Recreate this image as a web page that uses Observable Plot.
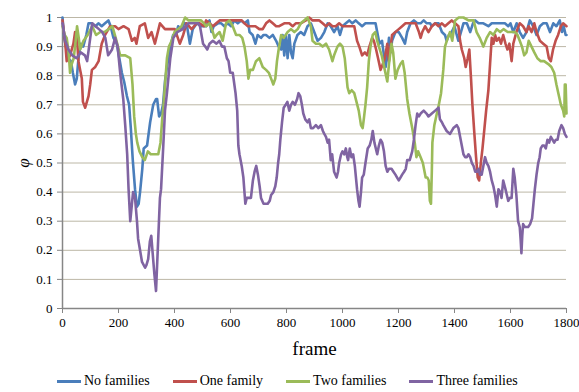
<!DOCTYPE html>
<html>
<head>
<meta charset="utf-8">
<script src="https://cdn.jsdelivr.net/npm/d3@7"></script>
<script src="https://cdn.jsdelivr.net/npm/@observablehq/plot@0.6"></script>
<style>
  html, body { margin: 0; padding: 0; background: #fff; }
  #chart { width: 579px; }
  #chart svg { display: block; }
  .legend { display: flex; align-items: center; gap: 23px; padding-left: 57px; margin-top: 6px;
    font-family: "Liberation Serif", "DejaVu Serif", serif; font-size: 14px; color: #000; height: 20px; }
  .legend .item { display: flex; align-items: center; gap: 3px; }
  .legend .sw { width: 24px; height: 3px; display: inline-block; }
</style>
</head>
<body>
<div id="chart"></div>
<script>
const seriesNames = ["No families", "One family", "Two families", "Three families"];
const seriesColors = ["#4a7ebb", "#c0504d", "#9bbb59", "#8064a2"];
const xTicks = [0, 200, 400, 600, 800, 1000, 1200, 1400, 1600, 1800];
const yTicks = [0, 0.1, 0.2, 0.3, 0.4, 0.5, 0.6, 0.7, 0.8, 0.9, 1];

const noFamilies = [[0,1.0],[6,0.93],[14,0.89],[21,0.86],[30,0.85],[37,0.81],[45,0.77],[51,0.79],[57,0.86],[65,0.91],[74,0.90],[85,0.94],[93,0.98],[105,0.98],[117,0.97],[129,0.98],[140,0.97],[152,0.98],[164,0.99],[172,0.97],[182,0.93],[194,0.91],[203,0.86],[212,0.81],[220,0.78],[230,0.73],[238,0.70],[244,0.62],[251,0.51],[259,0.41],[266,0.35],[272,0.36],[277,0.40],[285,0.48],[290,0.55],[302,0.56],[313,0.64],[324,0.70],[334,0.72],[338,0.72],[345,0.66],[352,0.67],[359,0.70],[366,0.78],[373,0.83],[385,0.90],[395,0.94],[405,0.94],[413,0.97],[425,0.96],[435,0.98],[443,0.98],[455,0.91],[465,0.96],[480,0.98],[495,0.97],[505,0.97],[513,0.97],[525,0.99],[532,0.95],[540,0.97],[555,0.98],[567,0.98],[578,0.97],[590,0.98],[602,0.97],[614,0.99],[626,0.98],[638,0.99],[650,0.98],[662,0.99],[668,0.95],[679,0.94],[689,0.91],[697,0.94],[709,0.93],[718,0.94],[727,0.94],[739,0.93],[751,0.94],[763,0.92],[772,0.90],[781,0.89],[786,0.94],[792,0.87],[798,0.94],[804,0.86],[810,0.94],[816,0.88],[822,0.86],[828,0.91],[839,0.94],[851,0.95],[863,0.94],[875,0.97],[887,0.98],[899,0.95],[911,0.92],[923,0.93],[935,0.95],[947,0.98],[958,0.97],[970,0.95],[982,0.97],[991,0.94],[1000,0.97],[1012,0.98],[1024,0.99],[1035,0.98],[1047,0.99],[1058,0.98],[1070,0.97],[1082,0.98],[1094,0.98],[1106,0.98],[1118,0.98],[1124,0.95],[1132,0.91],[1141,0.92],[1148,0.87],[1154,0.83],[1160,0.87],[1166,0.93],[1172,0.88],[1177,0.92],[1189,0.95],[1201,0.95],[1213,0.93],[1223,0.91],[1231,0.95],[1243,0.98],[1255,0.99],[1267,0.98],[1279,0.98],[1290,0.99],[1301,0.98],[1313,0.98],[1319,0.97],[1331,0.98],[1343,0.98],[1355,0.95],[1366,0.94],[1372,0.92],[1380,0.94],[1390,0.95],[1400,0.97],[1408,0.94],[1414,0.92],[1423,0.95],[1432,0.98],[1444,0.98],[1456,0.95],[1466,0.98],[1474,0.99],[1486,0.98],[1503,0.98],[1521,0.97],[1533,0.98],[1551,0.98],[1563,0.98],[1580,0.98],[1592,0.97],[1600,0.98],[1610,0.95],[1622,0.98],[1633,0.95],[1645,0.93],[1657,0.95],[1669,0.99],[1681,0.97],[1693,0.94],[1705,0.97],[1717,0.98],[1729,0.98],[1741,0.95],[1753,0.98],[1764,0.97],[1776,0.99],[1784,0.95],[1790,0.97],[1797,0.94],[1800,0.94]];

const oneFamily = [[0,0.99],[10,0.91],[15,0.85],[27,0.87],[39,0.91],[45,0.95],[51,0.94],[57,0.85],[63,0.82],[69,0.79],[73,0.71],[81,0.69],[93,0.73],[99,0.77],[105,0.82],[117,0.83],[129,0.85],[140,0.91],[152,0.94],[170,0.97],[188,0.97],[200,0.96],[218,0.97],[236,0.96],[248,0.92],[258,0.93],[264,0.91],[276,0.97],[294,0.98],[306,0.93],[318,0.95],[330,0.91],[348,0.98],[366,0.96],[383,0.96],[401,0.96],[419,0.91],[431,0.94],[443,0.98],[461,0.96],[479,0.98],[490,0.98],[505,0.97],[513,0.99],[525,0.98],[537,0.97],[549,0.98],[561,0.99],[578,0.99],[600,0.99],[620,0.99],[640,0.99],[650,0.98],[662,0.97],[674,0.97],[689,0.97],[703,0.96],[715,0.96],[727,0.98],[739,0.99],[751,0.98],[763,0.97],[774,0.97],[792,0.98],[810,0.98],[822,0.97],[833,0.98],[851,0.98],[869,0.99],[881,1.0],[893,0.99],[905,0.99],[917,0.99],[929,0.98],[941,0.97],[952,0.98],[964,0.97],[976,0.97],[988,0.98],[1000,0.97],[1012,0.97],[1030,0.97],[1042,0.97],[1052,0.92],[1060,0.90],[1070,0.87],[1080,0.88],[1088,0.87],[1096,0.90],[1106,0.93],[1112,0.92],[1120,0.89],[1127,0.86],[1136,0.82],[1144,0.84],[1151,0.86],[1160,0.91],[1166,0.85],[1172,0.90],[1177,0.94],[1189,0.95],[1201,0.96],[1213,0.97],[1225,0.98],[1237,0.98],[1249,0.98],[1261,0.98],[1273,0.95],[1279,0.93],[1285,0.95],[1295,0.97],[1307,0.95],[1319,0.97],[1331,0.98],[1343,0.97],[1355,0.98],[1366,0.97],[1378,0.98],[1390,0.99],[1402,0.98],[1414,0.97],[1420,0.92],[1426,0.89],[1435,0.86],[1440,0.83],[1447,0.86],[1453,0.89],[1459,0.79],[1464,0.70],[1471,0.60],[1477,0.52],[1483,0.45],[1488,0.44],[1494,0.50],[1500,0.55],[1507,0.62],[1513,0.68],[1521,0.75],[1527,0.84],[1533,0.93],[1539,0.91],[1545,0.94],[1551,0.92],[1559,0.93],[1566,0.91],[1574,0.94],[1582,0.91],[1589,0.89],[1596,0.91],[1604,0.85],[1610,0.91],[1621,0.95],[1633,0.98],[1645,0.97],[1657,0.95],[1665,0.97],[1675,0.95],[1685,0.98],[1693,0.95],[1705,0.92],[1717,0.91],[1729,0.90],[1737,0.86],[1744,0.85],[1752,0.89],[1761,0.92],[1770,0.94],[1780,0.97],[1788,0.98],[1800,0.97]];

const twoFamilies = [[0,0.97],[8,0.94],[15,0.93],[22,0.88],[27,0.81],[33,0.84],[40,0.86],[46,0.91],[52,0.97],[58,0.93],[63,0.89],[75,0.92],[90,0.94],[106,0.97],[120,0.94],[135,0.95],[150,0.95],[165,0.96],[178,0.97],[190,0.93],[206,0.87],[224,0.87],[242,0.86],[250,0.77],[256,0.66],[262,0.60],[267,0.57],[275,0.54],[285,0.52],[294,0.51],[305,0.54],[315,0.53],[330,0.53],[342,0.53],[350,0.57],[356,0.65],[361,0.70],[367,0.78],[373,0.86],[380,0.90],[390,0.92],[400,0.95],[413,0.96],[425,0.97],[438,1.0],[450,0.99],[465,0.99],[480,0.99],[495,0.99],[505,0.98],[513,0.97],[525,0.98],[537,0.95],[543,0.93],[550,0.94],[561,0.95],[572,0.92],[584,0.98],[596,0.99],[608,0.97],[620,0.94],[632,0.94],[642,0.93],[650,0.90],[658,0.85],[664,0.79],[670,0.82],[680,0.82],[691,0.85],[703,0.86],[715,0.83],[727,0.82],[737,0.81],[745,0.79],[753,0.77],[760,0.79],[766,0.85],[772,0.89],[781,0.94],[790,0.93],[804,0.95],[816,0.96],[828,0.95],[840,0.96],[851,0.98],[863,0.99],[875,1.0],[887,0.97],[893,0.92],[905,0.91],[917,0.91],[929,0.90],[941,0.91],[952,0.89],[964,0.85],[970,0.87],[982,0.90],[991,0.91],[1000,0.90],[1008,0.86],[1018,0.76],[1024,0.74],[1033,0.75],[1042,0.74],[1050,0.71],[1058,0.68],[1066,0.63],[1072,0.62],[1076,0.65],[1082,0.70],[1088,0.76],[1094,0.85],[1100,0.90],[1108,0.94],[1117,0.95],[1124,0.92],[1130,0.90],[1140,0.87],[1151,0.82],[1160,0.78],[1166,0.84],[1175,0.91],[1181,0.88],[1189,0.79],[1197,0.82],[1207,0.84],[1215,0.85],[1222,0.81],[1231,0.72],[1239,0.67],[1249,0.62],[1258,0.57],[1264,0.52],[1270,0.54],[1279,0.52],[1287,0.50],[1297,0.45],[1303,0.45],[1308,0.44],[1312,0.37],[1316,0.36],[1319,0.47],[1321,0.57],[1328,0.63],[1337,0.67],[1344,0.70],[1352,0.74],[1360,0.82],[1366,0.90],[1376,0.93],[1384,0.95],[1392,0.92],[1402,0.99],[1415,1.0],[1432,1.0],[1450,0.99],[1468,0.99],[1479,0.95],[1490,0.93],[1503,0.90],[1515,0.93],[1527,0.95],[1539,0.94],[1551,0.96],[1563,0.95],[1575,0.96],[1590,0.95],[1604,0.95],[1616,0.95],[1625,0.94],[1633,0.92],[1641,0.90],[1649,0.87],[1657,0.88],[1665,0.92],[1675,0.90],[1685,0.88],[1696,0.86],[1708,0.85],[1720,0.85],[1735,0.84],[1746,0.83],[1756,0.81],[1764,0.77],[1773,0.73],[1780,0.70],[1788,0.68],[1792,0.66],[1794,0.77],[1797,0.77],[1800,0.67]];

const threeFamilies = [[0,0.98],[10,0.92],[21,0.89],[35,0.87],[50,0.86],[65,0.88],[80,0.87],[88,0.85],[95,0.90],[106,0.98],[118,0.97],[130,0.96],[142,0.95],[153,0.93],[163,0.87],[170,0.88],[177,0.89],[188,0.93],[197,0.90],[206,0.81],[212,0.76],[217,0.72],[224,0.63],[231,0.53],[236,0.41],[242,0.30],[247,0.35],[252,0.40],[259,0.38],[266,0.30],[270,0.24],[277,0.20],[284,0.16],[295,0.14],[300,0.15],[306,0.17],[312,0.23],[317,0.25],[322,0.19],[328,0.12],[334,0.06],[341,0.22],[348,0.38],[352,0.41],[360,0.56],[366,0.68],[373,0.74],[379,0.80],[385,0.86],[396,0.93],[410,0.95],[430,0.96],[450,0.98],[470,0.98],[485,0.98],[491,0.97],[502,0.91],[510,0.90],[517,0.89],[525,0.91],[537,0.92],[550,0.91],[560,0.92],[570,0.90],[578,0.90],[587,0.86],[593,0.85],[599,0.81],[608,0.81],[618,0.74],[624,0.68],[628,0.56],[632,0.53],[640,0.49],[646,0.45],[653,0.36],[658,0.38],[665,0.38],[673,0.38],[680,0.44],[686,0.47],[692,0.49],[698,0.46],[704,0.42],[709,0.38],[718,0.36],[726,0.36],[733,0.36],[740,0.37],[745,0.39],[753,0.40],[760,0.42],[765,0.45],[770,0.50],[774,0.53],[778,0.58],[784,0.64],[790,0.69],[797,0.70],[803,0.71],[810,0.68],[816,0.70],[822,0.71],[830,0.70],[838,0.72],[843,0.74],[849,0.73],[855,0.70],[860,0.67],[867,0.65],[875,0.64],[881,0.65],[887,0.62],[895,0.62],[905,0.63],[914,0.62],[923,0.63],[930,0.61],[935,0.60],[941,0.59],[947,0.57],[952,0.58],[958,0.51],[963,0.53],[970,0.47],[979,0.45],[984,0.47],[988,0.50],[995,0.53],[1000,0.54],[1006,0.53],[1012,0.55],[1017,0.52],[1020,0.51],[1026,0.55],[1032,0.52],[1038,0.53],[1044,0.49],[1052,0.41],[1057,0.37],[1061,0.35],[1066,0.40],[1070,0.45],[1076,0.46],[1082,0.50],[1090,0.55],[1097,0.56],[1103,0.58],[1108,0.61],[1114,0.57],[1119,0.55],[1124,0.53],[1130,0.56],[1136,0.58],[1142,0.57],[1148,0.54],[1154,0.49],[1160,0.47],[1166,0.48],[1175,0.48],[1182,0.47],[1189,0.46],[1195,0.45],[1201,0.44],[1207,0.45],[1213,0.46],[1220,0.47],[1226,0.48],[1231,0.51],[1240,0.51],[1249,0.54],[1255,0.58],[1261,0.63],[1267,0.67],[1273,0.66],[1279,0.67],[1290,0.68],[1300,0.67],[1307,0.66],[1319,0.67],[1331,0.68],[1343,0.69],[1348,0.65],[1355,0.64],[1360,0.63],[1372,0.61],[1384,0.60],[1396,0.62],[1408,0.63],[1414,0.62],[1420,0.59],[1426,0.56],[1432,0.53],[1438,0.52],[1444,0.52],[1450,0.53],[1456,0.52],[1462,0.50],[1468,0.49],[1474,0.47],[1480,0.47],[1486,0.48],[1491,0.46],[1497,0.46],[1503,0.49],[1509,0.52],[1515,0.50],[1521,0.49],[1527,0.47],[1533,0.44],[1539,0.42],[1545,0.39],[1551,0.35],[1557,0.41],[1563,0.40],[1568,0.38],[1574,0.44],[1582,0.41],[1587,0.39],[1592,0.37],[1598,0.38],[1604,0.38],[1610,0.48],[1615,0.45],[1621,0.39],[1627,0.30],[1633,0.28],[1636,0.24],[1639,0.19],[1642,0.25],[1645,0.29],[1651,0.28],[1657,0.28],[1663,0.28],[1670,0.29],[1677,0.31],[1682,0.36],[1687,0.41],[1693,0.46],[1699,0.50],[1704,0.52],[1708,0.55],[1714,0.56],[1720,0.56],[1726,0.55],[1732,0.58],[1738,0.57],[1744,0.59],[1750,0.58],[1756,0.57],[1762,0.58],[1768,0.58],[1774,0.61],[1782,0.63],[1788,0.62],[1794,0.60],[1800,0.59]];

const allSeries = [noFamilies, oneFamily, twoFamilies, threeFamilies];
const rows = allSeries.flatMap((s, i) => s.map(([frame, v]) => ({frame, v, series: seriesNames[i]})));

const axisGrey = "#868686";
const chart = Plot.plot({
  width: 579,
  height: 365,
  marginLeft: 62,
  marginRight: 13,
  marginTop: 17,
  marginBottom: 57,
  style: {fontFamily: "'Liberation Serif', 'DejaVu Serif', serif", fontSize: "13px", color: "#000", background: "#fff"},
  x: {domain: [0, 1800]},
  y: {domain: [0, 1]},
  color: {domain: seriesNames, range: seriesColors},
  marks: [
    Plot.gridY(yTicks.filter(d => d > 0), {stroke: "#bcb7a6", strokeOpacity: 1, strokeWidth: 1}),
    Plot.axisY({ticks: yTicks, tickFormat: d => String(d), tickSize: 5, tickPadding: 5, stroke: axisGrey,
      label: "φ", labelAnchor: "center", labelOffset: 46, labelArrow: "none"}),
    Plot.axisX({ticks: xTicks, tickFormat: d => String(d), tickSize: 5, tickPadding: 4, stroke: axisGrey,
      label: "frame", labelAnchor: "center", labelOffset: 46, labelArrow: "none"}),
    Plot.ruleX([0], {stroke: axisGrey, strokeWidth: 1.5}),
    Plot.ruleY([0], {stroke: axisGrey, strokeWidth: 1.5}),
    Plot.line(rows, {x: "frame", y: "v", z: "series", stroke: "series", strokeWidth: 2.6, strokeLinejoin: "round", curve: "linear"})
  ]
});
document.getElementById("chart").appendChild(chart);

chart.querySelectorAll('[aria-label="x-axis label"] text').forEach(t => { t.style.fontSize = "19px"; });
chart.querySelectorAll('[aria-label="y-axis label"] text').forEach(t => { t.style.fontSize = "17px"; t.style.fontStyle = "italic"; });

const legend = document.createElement("div");
legend.className = "legend";
seriesNames.forEach((name, i) => {
  const item = document.createElement("span");
  item.className = "item";
  const sw = document.createElement("span");
  sw.className = "sw";
  sw.style.background = seriesColors[i];
  const label = document.createElement("span");
  label.textContent = name;
  item.appendChild(sw);
  item.appendChild(label);
  legend.appendChild(item);
});
document.getElementById("chart").appendChild(legend);
</script>
</body>
</html>
